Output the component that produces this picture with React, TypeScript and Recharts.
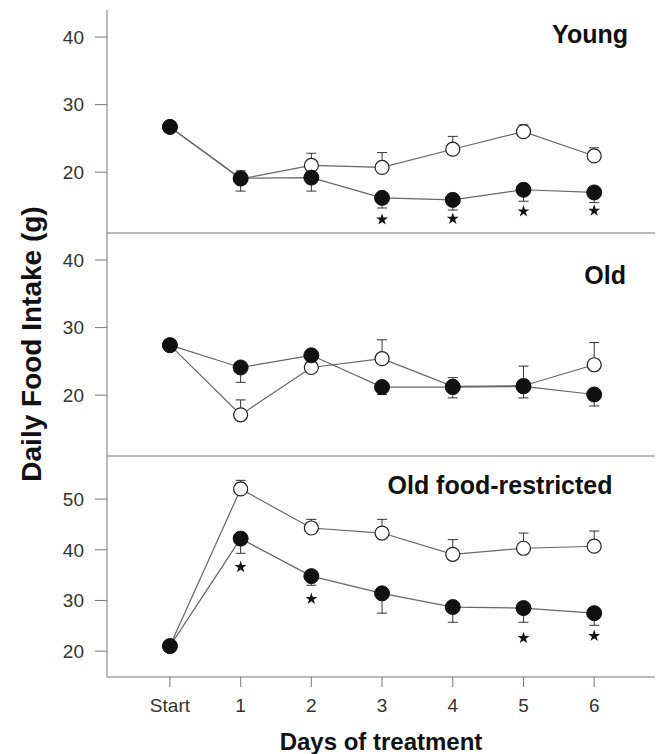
import React from 'react';
import { ComposedChart, Line, XAxis, YAxis, ZAxis, ErrorBar, Scatter, Label } from 'recharts';

const FONT = '"Liberation Sans", Arial, Helvetica, sans-serif';

const days = [0, 1, 2, 3, 4, 5, 6];
const dayLabels = ['Start', '1', '2', '3', '4', '5', '6'];

// Young
const youngFilled = [26.7, 19.1, 19.2, 16.2, 15.9, 17.4, 17.0];
const youngFilledLow = [26.7, 17.2, 17.2, 14.7, 14.4, 15.7, 15.5];
const youngOpen = [26.7, 19.0, 21.0, 20.7, 23.4, 26.0, 22.4];
const youngOpenHigh = [26.7, 20.2, 22.8, 22.9, 25.3, 27.0, 23.6];
const youngStars = [null, null, null, 13.0, 13.1, 14.2, 14.3];

// Old
const oldFilled = [27.4, 24.1, 25.9, 21.2, 21.2, 21.3, 20.1];
const oldFilledLow = [27.4, 21.9, 25.9, 20.1, 19.6, 19.6, 18.4];
const oldOpen = [27.4, 17.1, 24.1, 25.4, 21.3, 21.4, 24.5];
const oldOpenHigh = [27.4, 19.3, 24.1, 28.2, 22.6, 24.3, 27.8];
const oldStars = [null, null, null, null, null, null, null];

// Old food-restricted
const frFilled = [21.0, 42.2, 34.8, 31.4, 28.7, 28.5, 27.5];
const frFilledLow = [21.0, 39.3, 33.0, 27.5, 25.7, 25.7, 25.1];
const frOpen = [21.0, 52.0, 44.3, 43.3, 39.1, 40.3, 40.7];
const frOpenHigh = [21.0, 53.7, 46.0, 46.0, 42.0, 43.3, 43.7];
const frStars = [null, 36.6, 30.3, null, null, 22.6, 23.0];

const xDomain = [-0.89, 6.86];

function buildRows(filled: number[], filledLow: number[], open: number[], openHigh: number[]) {
  return days.map((d, i) => ({
    day: d,
    filled: filled[i],
    open: open[i],
    filledErr: filledLow[i] < filled[i] ? [filled[i] - filledLow[i], 0] : null,
    openErr: openHigh[i] > open[i] ? [0, openHigh[i] - open[i]] : null,
  }));
}

function buildStars(stars: (number | null)[]) {
  return days.map((d, i) => ({ day: d, star: stars[i] })).filter(r => r.star != null);
}

const axisColor = '#777';
const tickStyle = { fill: '#333', fontSize: 19, fontFamily: FONT };

interface PanelProps {
  top: number;
  height: number;
  rows: any[];
  stars: any[];
  yDomain: number[];
  yTicks: number[];
  bottom?: boolean;
  topBorder?: boolean;
}

function Panel({ top, height, rows, stars, yDomain, yTicks, bottom, topBorder }: PanelProps) {
  return (
    <div style={{ position: 'absolute', left: 0, top }}>
      <ComposedChart
        width={664}
        height={height}
        data={rows}
        margin={{ top: topBorder ? 10 : 0, right: 9, bottom: 0, left: 0 }}
      >
        <XAxis
          dataKey="day"
          type="number"
          domain={xDomain}
          ticks={days}
          allowDataOverflow
          height={bottom ? 77 : 10}
          tickSize={10}
          tickMargin={12}
          stroke={axisColor}
          tick={bottom ? tickStyle : false}
          tickFormatter={(v: number) => dayLabels[v]}
        >
          {bottom && (
            <Label
              value="Days of treatment"
              position="insideBottom"
              offset={4}
              style={{ fontFamily: FONT, fontWeight: 'bold', fontSize: 24, fill: '#111' }}
            />
          )}
        </XAxis>
        {topBorder && (
          <XAxis
            xAxisId="top"
            orientation="top"
            dataKey="day"
            type="number"
            domain={xDomain}
            height={0}
            tick={false}
            tickLine={false}
            stroke={axisColor}
          />
        )}
        <YAxis
          type="number"
          domain={yDomain}
          ticks={yTicks}
          allowDataOverflow
          width={107}
          tickSize={12}
          tickMargin={11}
          stroke={axisColor}
          tick={tickStyle}
        />
        <YAxis yAxisId="r" orientation="right" width={0} tick={false} tickLine={false} stroke="#d8d8d8" />
        <ZAxis range={[45, 45]} />
        <Line
          dataKey="open"
          type="linear"
          stroke="#666"
          strokeWidth={1.2}
          dot={{ r: 7, fill: '#fff', stroke: '#222', strokeWidth: 1.2 }}
          activeDot={false}
          isAnimationActive={false}
        >
          <ErrorBar dataKey="openErr" width={5} stroke="#333" strokeWidth={1} />
        </Line>
        <Line
          dataKey="filled"
          type="linear"
          stroke="#666"
          strokeWidth={1.2}
          dot={{ r: 7.5, fill: '#111', stroke: '#111', strokeWidth: 1 }}
          activeDot={false}
          isAnimationActive={false}
        >
          <ErrorBar dataKey="filledErr" width={5} stroke="#333" strokeWidth={1} />
        </Line>
        <Scatter data={stars} dataKey="star" shape="star" fill="#111" isAnimationActive={false} />
      </ComposedChart>
    </div>
  );
}

export default function App() {
  const titleStyle = { fontFamily: FONT, fontWeight: 'bold' as const, fontSize: 25, fill: '#111' };
  return (
    <div style={{ position: 'absolute', left: 0, top: 0, width: 664, height: 754, background: '#fff' }}>
      <svg width={664} height={754} style={{ position: 'absolute', left: 0, top: 0 }}>
        <text
          x={41}
          y={344}
          transform="rotate(-90 41 344)"
          textAnchor="middle"
          style={{ fontFamily: FONT, fontWeight: 'bold', fontSize: 28, fill: '#111' }}
        >
          Daily Food Intake (g)
        </text>
        <text x={628} y={43} textAnchor="end" style={titleStyle}>Young</text>
        <text x={626} y={284} textAnchor="end" style={titleStyle}>Old</text>
        <text x={500} y={494} textAnchor="middle" style={titleStyle}>Old food-restricted</text>
      </svg>
      <Panel
        top={0}
        height={243}
        rows={buildRows(youngFilled, youngFilledLow, youngOpen, youngOpenHigh)}
        stars={buildStars(youngStars)}
        yDomain={[11, 44]}
        yTicks={[20, 30, 40]}
        topBorder
      />
      <Panel
        top={233}
        height={233}
        rows={buildRows(oldFilled, oldFilledLow, oldOpen, oldOpenHigh)}
        stars={buildStars(oldStars)}
        yDomain={[11, 44]}
        yTicks={[20, 30, 40]}
      />
      <Panel
        top={456}
        height={298}
        rows={buildRows(frFilled, frFilledLow, frOpen, frOpenHigh)}
        stars={buildStars(frStars)}
        yDomain={[14.9, 58.5]}
        yTicks={[20, 30, 40, 50]}
        bottom
      />
    </div>
  );
}
